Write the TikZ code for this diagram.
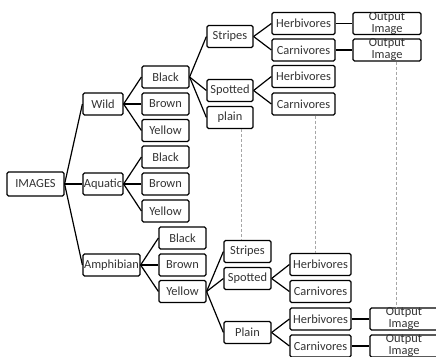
\documentclass[tikz,border=0pt]{standalone}
\usepackage{fontspec}
\setmainfont{Carlito}
\usepackage{tikz}

\tikzset{
	box/.style={draw, rounded corners=1.5pt, line width=1.2pt, minimum height=22, inner sep=0pt, font=\fontsize{12.4}{12}\selectfont, text=black!80},
	outbox/.style={box, minimum width=68, align=center},
	link/.style={line width=1.2pt},
	guide/.style={draw=gray!70, line width=0.5pt, dash pattern=on 3pt off 2pt},
}

\begin{document}
\begin{tikzpicture}[x=1pt, y=-1pt]
	\useasboundingbox (0,0) rectangle (436,356);
	\clip (0,0) rectangle (436,356);
	\node[box, minimum width=57, minimum height=24] (images) at (35.5,184) {IMAGES};
	\node[box, minimum width=40] (wild) at (103,104) {Wild};
	\node[box, minimum width=40] (aquatic) at (103,184) {Aquatic};
	\node[box, minimum width=57] (amphibian) at (111.5,265) {Amphibian};
	\node[box, minimum width=47] (blackW) at (165.5,77) {Black};
	\node[box, minimum width=47] (brownW) at (165.5,104) {Brown};
	\node[box, minimum width=47] (yellowW) at (165.5,130.5) {Yellow};
	\node[box, minimum width=47] (blackQ) at (165.5,157) {Black};
	\node[box, minimum width=47] (brownQ) at (165.5,184) {Brown};
	\node[box, minimum width=47] (yellowQ) at (165.5,211) {Yellow};
	\node[box, minimum width=47] (blackP) at (182.5,238) {Black};
	\node[box, minimum width=47] (brownP) at (182.5,265) {Brown};
	\node[box, minimum width=47] (yellowP) at (182.5,291.5) {Yellow};
	\node[box, minimum width=46] (stripesW) at (230,36.5) {Stripes};
	\node[box, minimum width=46] (spottedW) at (230,90.5) {Spotted};
	\node[box, minimum width=46] (plainW) at (230,117.5) {plain};
	\node[box, minimum width=63] (herbSt) at (303.5,23.5) {Herbivores};
	\node[box, minimum width=63] (carnSt) at (303.5,50) {Carnivores};
	\node[box, minimum width=63] (herbSp) at (303.5,76.5) {Herbivores};
	\node[box, minimum width=63] (carnSp) at (303.5,104) {Carnivores};
	\node[outbox] (outHerbSt) at (387,23.5) {Output\\Image};
	\node[outbox] (outCarnSt) at (387,50) {Output\\Image};
	\node[box, minimum width=47] (stripesP) at (247.5,251.5) {Stripes};
	\node[box, minimum width=47] (spottedP) at (247.5,278.5) {Spotted};
	\node[box, minimum width=47] (plainP) at (247.5,332.5) {Plain};
	\node[box, minimum width=61] (herbSpP) at (320.5,264.5) {Herbivores};
	\node[box, minimum width=61] (carnSpP) at (320.5,291.5) {Carnivores};
	\node[box, minimum width=61] (herbPl) at (320.5,319) {Herbivores};
	\node[box, minimum width=61] (carnPl) at (320.5,346) {Carnivores};
	\node[outbox] (outHerbPl) at (404,319) {Output\\Image};
	\node[outbox] (outCarnPl) at (404,346) {Output\\Image};
	\draw[link] (images.east) edge (wild.west) edge (aquatic.west) edge (amphibian.west);
	\draw[link] (wild.east) edge (blackW.west) edge (brownW.west) edge (yellowW.west);
	\draw[link] (aquatic.east) edge (blackQ.west) edge (brownQ.west) edge (yellowQ.west);
	\draw[link] (amphibian.east) edge (blackP.west) edge (brownP.west) edge (yellowP.west);
	\draw[link] (blackW.east) edge (stripesW.west) edge (spottedW.west) edge (plainW.west);
	\draw[link] (stripesW.east) edge (herbSt.west) edge (carnSt.west);
	\draw[link] (spottedW.east) edge (herbSp.west) edge (carnSp.west);
	\draw[link] (herbSt) edge (outHerbSt);
	\draw[link] (carnSt) edge (outCarnSt);
	\draw[link] (yellowP.east) edge (stripesP.west) edge (spottedP.west) edge (plainP.west);
	\draw[link] (spottedP.east) edge (herbSpP.west) edge (carnSpP.west);
	\draw[link] (plainP.east) edge (herbPl.west) edge (carnPl.west);
	\draw[link] (herbPl) edge (outHerbPl);
	\draw[link] (carnPl) edge (outCarnPl);
	\draw[guide] (plainW.south) ++(11,0) coordinate (g1) -- (g1 |- stripesP.north);
	\draw[guide] (carnSp.south) ++(11.5,0) coordinate (g2) -- (g2 |- herbSpP.north);
	\draw[guide] (outCarnSt.south) ++(9,0) coordinate (g3) -- (g3 |- outHerbPl.north);
\end{tikzpicture}
\end{document}
